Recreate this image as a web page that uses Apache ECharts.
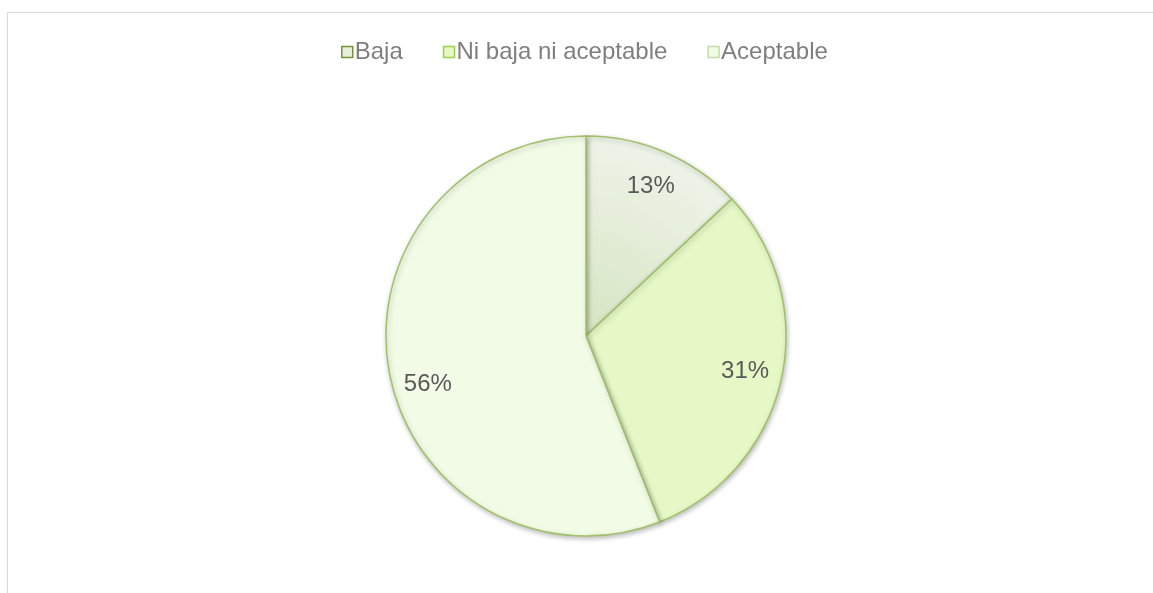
<!DOCTYPE html>
<html>
<head>
<meta charset="utf-8">
<script src="https://cdn.jsdelivr.net/npm/echarts@6/dist/echarts.min.js"></script>
<style>
  html, body { margin: 0; padding: 0; background: #fff; }
  #frame { position: absolute; left: 7px; top: 12px; width: 1160px; height: 600px;
           border-left: 1px solid #d9d9d9; border-top: 1px solid #d9d9d9; }
  #chart { position: absolute; left: 0; top: 0; width: 1153px; height: 593px; }
</style>
</head>
<body>
<div id="frame"></div>
<div id="chart"></div>
<script>
// Categories and their shares (percent)
const categories = ['Baja', 'Ni baja ni aceptable', 'Aceptable'];
const shares = [13, 31, 56];

// Slice fills and legend swatch borders
const sliceFills = ['#e6efd9', '#e5f8c6', '#f1fbe6'];
const swatchBorders = ['#77933c', '#9bcf4c', '#c4dcaa'];

const center = [586, 336];
const radius = 200;

const chart = echarts.init(document.getElementById('chart'), null, { renderer: 'canvas' });

const sliceData = categories.map((name, i) => ({
  name,
  value: shares[i],
  itemStyle: i === 0
    ? {
        color: new echarts.graphic.RadialGradient(center[0], center[1], radius, [
          { offset: 0, color: '#d6e5c2' },
          { offset: 1, color: '#eef3e8' }
        ], true)
      }
    : { color: sliceFills[i] }
}));

chart.setOption({
  animation: false,
  legend: {
    top: 35,
    left: 336,
    icon: 'rect',
    itemWidth: 11,
    itemHeight: 11,
    itemGap: 40,
    textStyle: { fontFamily: 'Liberation Sans, Arial, sans-serif', fontSize: 24, color: '#7f7f7f', padding: [0, 0, 0, -3] },
    data: categories.map((name, i) => ({
      name,
      itemStyle: { color: sliceFills[i], borderColor: swatchBorders[i], borderWidth: 1.5 }
    }))
  },
  series: [
    {
      // visible pie
      type: 'pie',
      center: center,
      radius: [0, radius],
      startAngle: 90,
      clockwise: true,
      silent: true,
      label: { show: false },
      labelLine: { show: false },
      itemStyle: {
        borderColor: '#a2c06a',
        borderWidth: 1.5,
        shadowBlur: 5,
        shadowOffsetX: 1,
        shadowOffsetY: 2,
        shadowColor: 'rgba(0,0,0,0.25)'
      },
      data: sliceData
    },
    {
      // transparent twin carrying percentage labels at ~0.8 of the radius
      type: 'pie',
      center: center,
      radius: [0, radius * 1.6],
      startAngle: 90,
      clockwise: true,
      silent: true,
      legendHoverLink: false,
      itemStyle: { color: 'rgba(0,0,0,0)', borderWidth: 0 },
      label: {
        show: true,
        position: 'inside',
        formatter: p => p.value + '%',
        fontFamily: 'Liberation Sans, Arial, sans-serif',
        fontSize: 24,
        color: '#595959'
      },
      labelLine: { show: false },
      data: categories.map((name, i) => ({
        name,
        value: shares[i],
        // the large slice's label sits a little lower along its arc
        label: i === 2 ? { offset: [2, 18] } : {}
      }))
    }
  ]
});
</script>
</body>
</html>
